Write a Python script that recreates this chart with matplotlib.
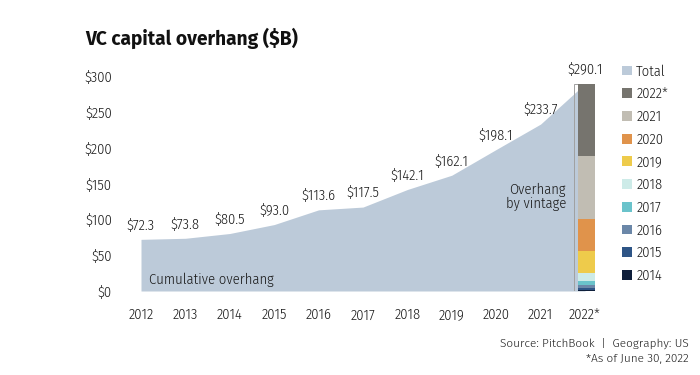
import matplotlib
matplotlib.use("Agg")
import matplotlib.pyplot as plt
from matplotlib.patches import Patch
import numpy as np

plt.rcParams['font.family'] = ['Fira Sans Condensed', 'DejaVu Sans']
plt.rcParams['font.stretch'] = 'condensed'
plt.rcParams['font.weight'] = 300

# ---------------- data ----------------
years = ["2012", "2013", "2014", "2015", "2016", "2017", "2018", "2019", "2020", "2021", "2022*"]
overhang = [72.3, 73.8, 80.5, 93.0, 113.6, 117.5, 142.1, 162.1, 198.1, 233.7, 290.1]

vintages = ["2014", "2015", "2016", "2017", "2018", "2019", "2020", "2021", "2022*"]
vintage_values = [2.0, 2.8, 4.0, 4.5, 12.5, 30.0, 45.4, 87.5, 101.4]
vintage_colors = ["#0f1f3b", "#2e5586", "#6b87a8", "#6ac3cb", "#cdebe8",
                  "#eecb4b", "#e0934b", "#c1bdb3", "#76746e"]

y_ticks = [0, 50, 100, 150, 200, 250, 300]
y_ticklabels = ["$0", "$50", "$100", "$150", "$200", "$250", "$300"]

area_color = "#bccad9"
text_color = "#1a1a1a"
fs = 10.5

# ---------------- figure ----------------
W, H = 700, 375
fig = plt.figure(figsize=(W / 100, H / 100), dpi=100)
ax_left, ax_right, ax_bottom, ax_top = 130, 610, 291, 76.7
ax = fig.add_axes([ax_left / W, (H - ax_bottom) / H,
                   (ax_right - ax_left) / W, (ax_bottom - ax_top) / H])

x = np.arange(len(years))
ax.fill_between(x, 0, overhang, color=area_color, linewidth=0, zorder=1)

bar_x = x[-1] + 0.03
bottom = 0.0
for val, col in zip(vintage_values, vintage_colors):
    ax.bar(bar_x, val, bottom=bottom, width=0.38, color=col, linewidth=0, zorder=3)
    bottom += val

bx = bar_x - 0.27
ax.plot([bx + 0.07, bx, bx, bx + 0.07], [overhang[-1], overhang[-1], 0, 0],
        color="#a0a0a0", lw=0.7, zorder=2, solid_joinstyle='miter')

for xi, v in zip(x, overhang):
    ax.annotate(f"${v:.1f}", (xi, v), xytext=(0, 11), textcoords="offset points",
                ha="center", va="center_baseline", fontsize=fs,
                color=text_color, zorder=4)

ax.text(0.18, 18, "Cumulative overhang", fontsize=fs, color=text_color,
        ha="left", va="center_baseline", zorder=4)
ax.text(9.57, 132, "Overhang\nby vintage", fontsize=fs, color=text_color,
        ha="right", va="center", linespacing=1.0, zorder=4)

ax.set_xlim((ax_left - 141) / 44.4, (ax_right - 141) / 44.4)
ax.set_ylim(0, 300)
ax.set_xticks(x)
ax.set_xticklabels(years, fontsize=fs, color=text_color)
ax.set_yticks(y_ticks)
ax.set_yticklabels(y_ticklabels, fontsize=fs, color=text_color)
for lbl in ax.get_xticklabels():
    lbl.set_verticalalignment('baseline')
for lbl in ax.get_yticklabels():
    lbl.set_verticalalignment('center_baseline')
ax.tick_params(axis='both', length=0)
ax.tick_params(axis='x', pad=20.5)
ax.tick_params(axis='y', pad=13)
for s in ax.spines.values():
    s.set_visible(False)

handles = [Patch(facecolor=area_color, label="Total")]
for lab, col in zip(vintages[::-1], vintage_colors[::-1]):
    handles.append(Patch(facecolor=col, label=lab))
leg = fig.legend(handles=handles, loc="upper left", bbox_to_anchor=(615 / W, 1 - 57 / H),
                 frameon=False, fontsize=fs, handlelength=0.65, handleheight=0.65,
                 handletextpad=0.3, labelspacing=0.58, borderpad=0, labelcolor=text_color)

fig.text(85 / W, 1 - 38 / H, "VC capital overhang ($B)", fontsize=13.8,
         fontweight="bold", family=["Fira Sans", "DejaVu Sans"], stretch='normal',
         color="#111111", ha="left", va="center")
fig.text(689 / W, 1 - 343 / H, "Source: PitchBook  |  Geography: US", fontsize=8.5,
         family=["Fira Sans", "DejaVu Sans"], stretch='normal', color=text_color,
         ha="right", va="center")
fig.text(689 / W, 1 - 359 / H, "*As of June 30, 2022", fontsize=8.5,
         family=["Fira Sans", "DejaVu Sans"], stretch='normal', color=text_color,
         ha="right", va="center")

fig.savefig("out.png", dpi=100)
